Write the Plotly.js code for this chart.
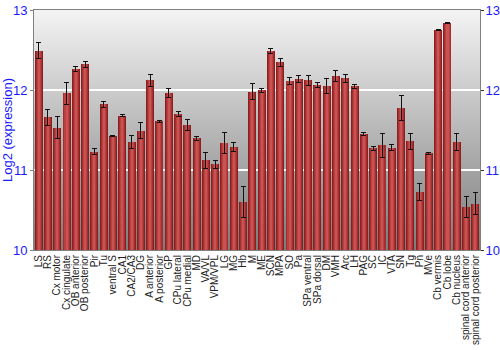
<!DOCTYPE html>
<html><head><meta charset="utf-8">
<script src="https://cdn.plot.ly/plotly-3.0.1.min.js"></script>
<style>html,body{margin:0;padding:0;background:#fff}#c{width:500px;height:350px}</style>
</head><body><div id="c"></div>
<script>
const regions = ["LS","RS","Cx motor","Cx cingulate","OB anterior","OB posterior","Pir","Tu","ventral S","CA1","CA2/CA3","DG","A anterior","A posterior","GP","CPu lateral","CPu medial","MD","VA/VL","VPM/VPL","LG","MG","Hb","M","ME","SCN","MPA","SO","Pa","SPa ventral","SPa dorsal","DM","VMH","Arc","LH","PAG","SC","IC","VTA","SN","Tg","Pn","MVe","Cb vermis","Cb lobe","Cb nucleus","spinal cord anterior","spinal cord posterior"];
const log2Expression = [12.49,11.66,11.53,11.96,12.26,12.32,11.23,11.82,11.43,11.68,11.35,11.49,12.12,11.61,11.96,11.70,11.56,11.40,11.125,11.075,11.34,11.29,10.60,11.98,12.00,12.49,12.35,12.11,12.14,12.12,12.06,12.05,12.18,12.15,12.05,11.45,11.27,11.31,11.28,11.775,11.36,10.725,11.21,12.755,12.84,11.35,10.54,10.58];
const stdErr = [0.10,0.10,0.135,0.14,0.03,0.035,0.04,0.035,0.005,0.01,0.085,0.10,0.08,0.01,0.055,0.03,0.07,0.025,0.10,0.05,0.135,0.06,0.19,0.10,0.025,0.03,0.05,0.045,0.04,0.06,0.03,0.09,0.07,0.05,0.025,0.02,0.02,0.15,0.04,0.155,0.10,0.105,0.01,0.005,0.01,0.11,0.135,0.14];
const yTicks = [10,11,12,13];

const blue = "#1a1aff";
const gradSvg = '<svg xmlns="http://www.w3.org/2000/svg" width="10" height="100" preserveAspectRatio="none"><defs><linearGradient id="g" x1="0" y1="0" x2="0" y2="1"><stop offset="0" stop-color="#f4f4f4"/><stop offset="1" stop-color="#7c7c7c"/></linearGradient></defs><rect width="10" height="100" fill="url(#g)"/></svg>';
const bgUri = "data:image/svg+xml;base64," + btoa(gradSvg);

const layers = [
  {w:0.86, c:"#8a1f1f"},
  {w:0.66, c:"#a52f2f"},
  {w:0.44, c:"#bb4040"},
  {w:0.22, c:"#c95252"}
];
const data = layers.map((l,i)=>({
  type:"bar", x:regions, y:log2Expression, width:l.w,
  marker:{color:l.c, line:{width:0}},
  hoverinfo:"skip", showlegend:false,
  error_y: i===layers.length-1 ? {type:"data", array:stdErr, visible:true, color:"#111", thickness:1, width:2.5} : {visible:false}
}));
data.push({type:"scatter", x:regions, y:log2Expression, yaxis:"y2", mode:"none", hoverinfo:"skip", showlegend:false});

const font = "Liberation Sans, Arial, sans-serif";
const layout = {
  width:500, height:350,
  margin:{l:34, r:20, t:10, b:100},
  paper_bgcolor:"#fff", plot_bgcolor:"#aaa",
  barmode:"overlay",
  bargap:0,
  images:[{source:bgUri, xref:"paper", yref:"paper", x:0, y:1, sizex:1, sizey:1, sizing:"stretch", layer:"below"}],
  xaxis:{type:"category", tickmode:"array", tickvals:regions, ticktext:regions, tickangle:-90,
    tickfont:{family:font, size:10, color:"#222"},
    showline:true, mirror:true, linecolor:"#808080", linewidth:1, ticks:"", showgrid:false, automargin:false},
  yaxis:{range:[10,13], tickvals:yTicks, ticktext:yTicks.map(String), showgrid:true, gridcolor:"#ffffff", gridwidth:1.5,
    zeroline:false, showline:true, linecolor:"#808080", linewidth:1, ticks:"outside", ticklen:3, tickcolor:"#808080",
    tickfont:{family:font, size:13, color:blue},
    title:{text:"Log2 (expression)", standoff:6, font:{family:font, size:13, color:blue}}, automargin:false},
  yaxis2:{range:[10,13], overlaying:"y", side:"right", tickvals:yTicks, showgrid:false, zeroline:false, showline:true,
    linecolor:"#808080", linewidth:1, ticks:"outside", ticklen:3, tickcolor:"#333", ticklabelstandoff:-1,
    tickfont:{family:font, size:13, color:blue}, automargin:false}
};
Plotly.newPlot("c", data, layout, {staticPlot:true, displayModeBar:false});
</script></body></html>
